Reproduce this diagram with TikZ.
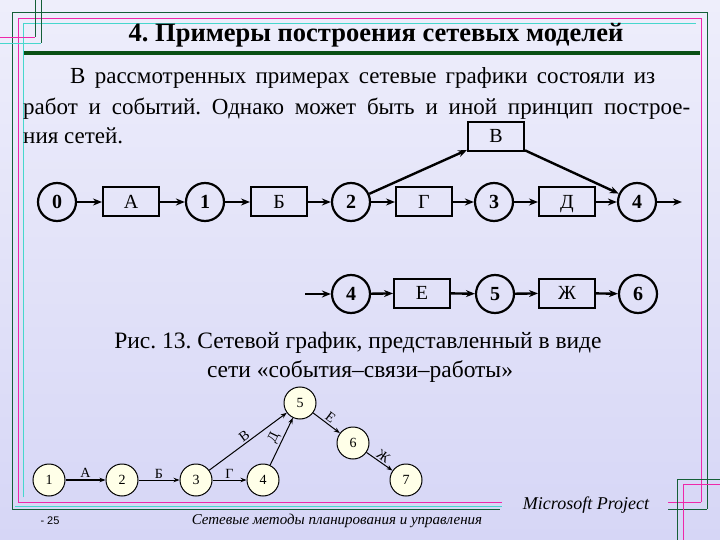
\documentclass[tikz,border=0pt]{standalone}
\usepackage{fontspec}
\setmainfont{Liberation Serif}
\newfontfamily\footsans{Liberation Sans}
\usetikzlibrary{arrows.meta,positioning}
\definecolor{bgtop}{RGB}{238,238,251}
\definecolor{bgbot}{RGB}{214,214,246}
\definecolor{framegreen}{RGB}{20,95,55}
\definecolor{framepink}{RGB}{238,40,170}
\definecolor{framecyan}{RGB}{70,215,205}
\definecolor{titlebar}{RGB}{10,80,20}
\definecolor{nodecream}{RGB}{255,255,232}
\frenchspacing

\begin{document}
\begin{tikzpicture}[
    x=1pt, y=-1pt,
    evt/.style={
      circle, draw, line width=2.2pt, minimum size=38pt, inner sep=0pt,
      text height=13pt, text depth=1pt,
      font=\fontsize{20}{20}\selectfont\bfseries
    },
    job/.style={
      rectangle, draw, line width=2pt, minimum width=56pt,
      minimum height=29pt, inner sep=0pt, text height=13pt, text depth=1pt,
      font=\fontsize{20}{20}\selectfont
    },
    flow/.style={line width=2.4pt, -{Stealth[length=9pt,width=7pt]}},
    sevt/.style={
      circle, draw, fill=nodecream, line width=1pt, minimum size=32pt,
      inner sep=0pt, font=\fontsize{14}{14}\selectfont
    },
    sflow/.style={line width=1pt, -{Stealth[length=6pt,width=4.5pt]}},
    slbl/.style={font=\fontsize{14}{14}\selectfont, inner sep=1.5pt},
    frg/.style={draw=framegreen, line width=0.9pt},
    frp/.style={draw=framepink, line width=0.9pt},
    frc/.style={draw=framecyan, line width=0.9pt},
    partext/.style={anchor=base west, inner sep=0pt, font=\fontsize{23}{23}\selectfont},
    >=Stealth
  ]

  %% Slide background
  \useasboundingbox (0,0) rectangle (720,540);
  \fill[top color=bgtop, bottom color=bgbot] (0,0) rectangle (720,540);

  %% Frame
  \draw[frg] (12,509) -- (12,12) -- (707,12) -- (707,509);
  \draw[frp] (18,502) -- (18,18) -- (701,18) -- (701,502);
  \draw[frc] (23,497) -- (23,23) -- (696,23);
  \draw[frp] (18,502) -- (502,502);
  \draw[frc] (15,506) -- (502,506);
  \draw[frg] (12,509) -- (500,509);
  \draw[frp] (668,502) -- (701,502);
  \draw[frg] (668,509) -- (707,509);

  %% Corner marks
  \draw[frg] (35,0) -- (35,37);
  \draw[frg] (41,0) -- (41,43);
  \draw[frp] (0,37) -- (35,37);
  \draw[frc] (0,43) -- (41,43);
  \draw[frg] (677,540) -- (677,479) -- (720,479);
  \draw[frp] (683,540) -- (683,484) -- (720,484);

  %% Title
  \node[font=\fontsize{26.5}{26.5}\selectfont\bfseries] (title) at (376,35)
    {4. Примеры построения сетевых моделей};
  \draw[titlebar, line width=4pt] (24,53) -- (700,53);

  %% Paragraph
  \node[partext] (p1) at (70,84)
    {\makebox[585pt][s]{В рассмотренных примерах сетевые графики состояли из}};
  \node[partext] (p2) at (23,115)
    {\makebox[667pt][s]{работ и событий. Однако может быть и иной принцип построе-}};
  \node[partext] (p3) at (23,144) {ния сетей.};

  %% Network: events and jobs
  \node[evt] (e0) at (57,202)  {0};
  \node[job] (jA) at (131,202) {А};
  \node[evt] (e1) at (205,202) {1};
  \node[job] (jB) at (279,202) {Б};
  \node[evt] (e2) at (351,202) {2};
  \node[job] (jG) at (424,202) {Г};
  \node[evt] (e3) at (494,202) {3};
  \node[job] (jD) at (567,202) {Д};
  \node[evt] (e4) at (637,202) {4};
  \node[job] (jV) at (496,137) {В};
  \coordinate (out4) at (682,202);

  \coordinate (in4) at (305,294);
  \node[evt] (f4) at (351,294) {4};
  \node[job] (jE) at (422,293) {Е};
  \node[evt] (f5) at (495,294) {5};
  \node[job] (jZ) at (567,293) {Ж};
  \node[evt] (f6) at (638,294) {6};

  \foreach \a/\b in {e0/jA, jA/e1, e1/jB, jB/e2, e2/jG, jG/e3, e3/jD,
                     jD/e4, e4/out4, e2/jV, jV/e4,
                     in4/f4, f4/jE, jE/f5, f5/jZ, jZ/f6}
    \draw[flow] (\a) -- (\b);

  %% Caption
  \node[font=\fontsize{23.5}{23.5}\selectfont] (cap1) at (358,343)
    {Рис. 13. Сетевой график, представленный в виде};
  \node[font=\fontsize{23.5}{23.5}\selectfont] (cap2) at (360,372)
    {сети «события–связи–работы»};

  %% Small network
  \node[sevt] (s1) at (49,480)  {1};
  \node[sevt] (s2) at (122,480) {2};
  \node[sevt] (s3) at (196,480) {3};
  \node[sevt] (s4) at (263,480) {4};
  \node[sevt] (s5) at (300,403) {5};
  \node[sevt] (s6) at (353,443) {6};
  \node[sevt] (s7) at (406,480) {7};

  \draw[sflow, line width=2.2pt] (s1) -- node[slbl, above] {А} (s2);
  \draw[sflow] (s2) -- node[slbl, above] {Б} (s3);
  \draw[sflow] (s3) -- node[slbl, above] {Г} (s4);
  \draw[sflow] (s3) -- node[slbl, above, sloped] {В} (s5);
  \draw[sflow] (s4) -- node[slbl, above, sloped] {Д} (s5);
  \draw[sflow] (s5) -- node[slbl, above, sloped] {Е} (s6);
  \draw[sflow] (s6) -- node[slbl, above, sloped] {Ж} (s7);

  %% Footer
  \node[font=\footsans\fontsize{11}{11}\selectfont] (pg) at (50,521) {- 25};
  \node[font=\itshape\fontsize{15}{15}\selectfont] (foot) at (337,521)
    {Сетевые методы планирования и управления};
  \node[font=\itshape\fontsize{18}{18}\selectfont] (ms) at (586,505)
    {Microsoft Project};

\end{tikzpicture}
\end{document}
